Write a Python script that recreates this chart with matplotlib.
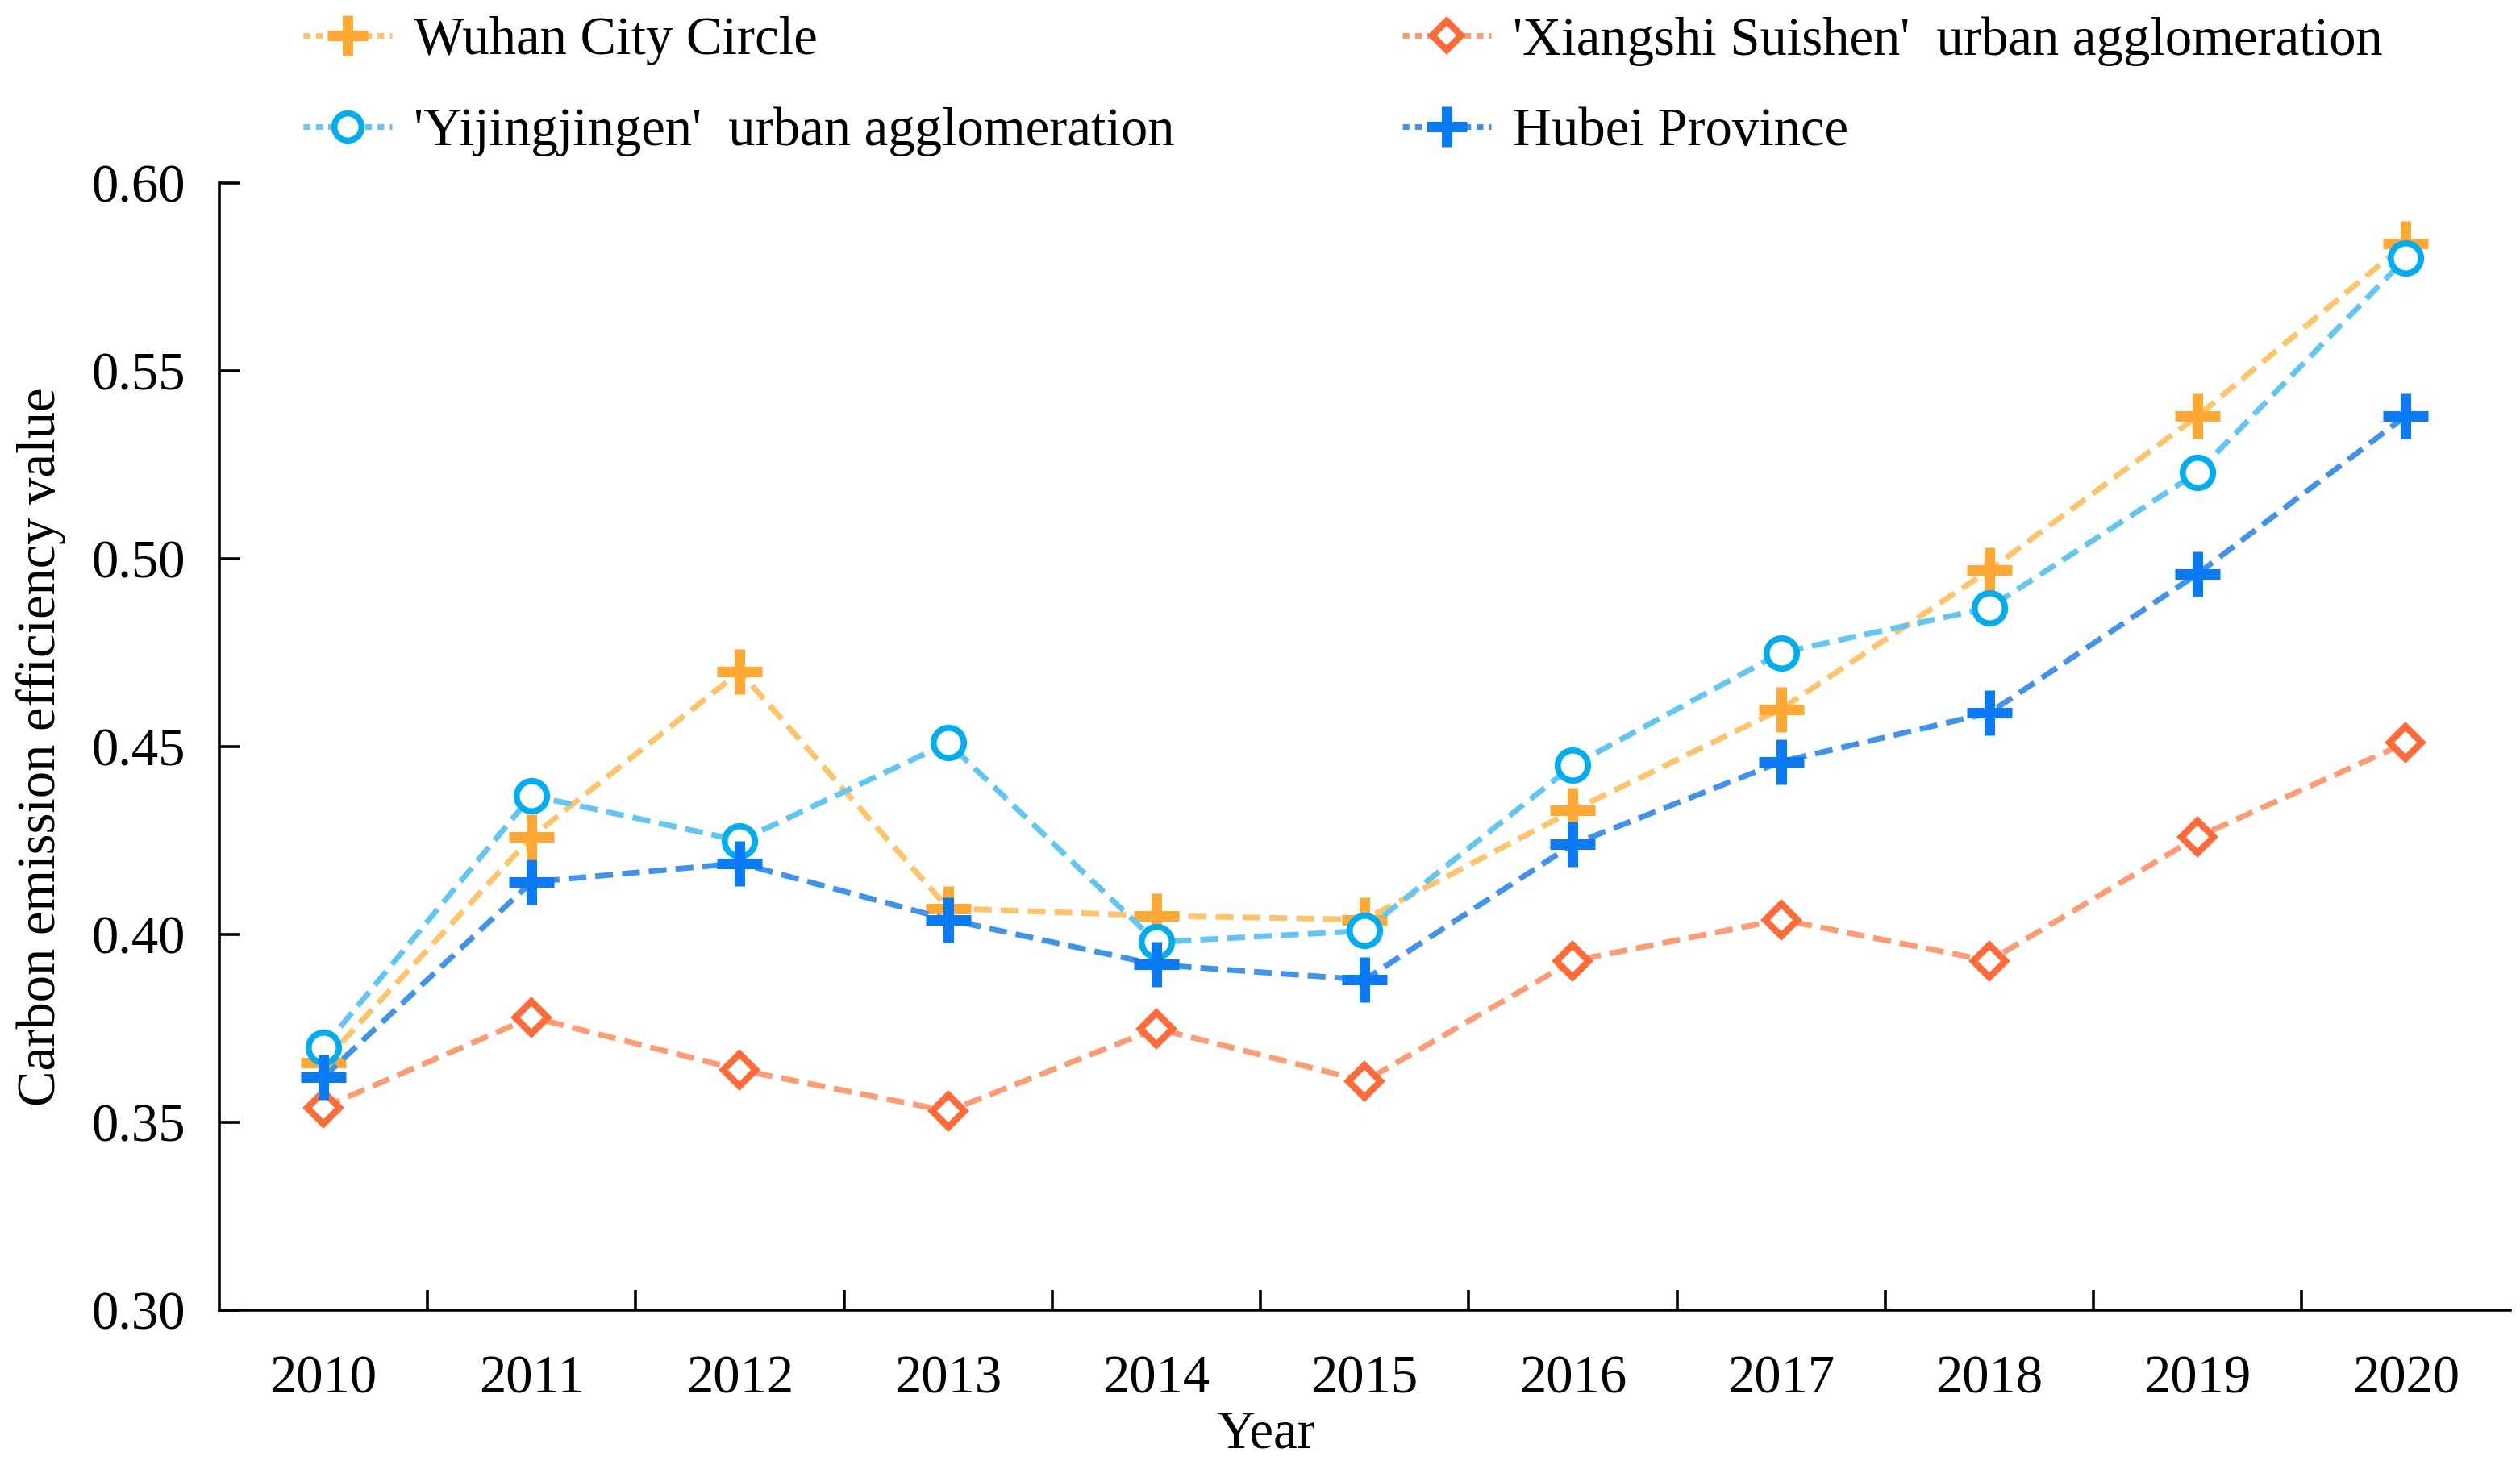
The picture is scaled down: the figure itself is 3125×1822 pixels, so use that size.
import numpy as np
import matplotlib
matplotlib.use('Agg')
import matplotlib.pyplot as plt
from matplotlib.lines import Line2D
from matplotlib.ticker import MultipleLocator, FixedLocator, FormatStrFormatter

years = [2010, 2011, 2012, 2013, 2014, 2015, 2016, 2017, 2018, 2019, 2020]
wuhan = [0.366, 0.426, 0.470, 0.407, 0.405, 0.404, 0.433, 0.460, 0.497, 0.538, 0.584]
xiangshi = [0.354, 0.378, 0.364, 0.353, 0.375, 0.361, 0.393, 0.404, 0.393, 0.426, 0.451]
yijing = [0.370, 0.437, 0.425, 0.451, 0.398, 0.401, 0.445, 0.475, 0.487, 0.523, 0.580]
hubei = [0.362, 0.414, 0.419, 0.404, 0.392, 0.388, 0.424, 0.446, 0.459, 0.496, 0.538]

names = ['Wuhan City Circle', "'Xiangshi Suishen'  urban agglomeration",
         "'Yijingjingen'  urban agglomeration", 'Hubei Province']

plt.rcParams['font.family'] = ['Liberation Serif', 'DejaVu Serif']
plt.rcParams['font.size'] = 48

fig = plt.figure(figsize=(31.25, 18.22), dpi=100)
ax = fig.add_axes([0.087, 0.108, 0.909, 0.7674])

dash = (3.2, 1.6)
lw = 5
# (values, line colour, marker colour, marker, size, edge width, zorder)
series = [
    (wuhan, '#FFC36A', '#FFA833', '+', 40, 9.4, 3),
    (xiangshi, '#FF9B72', '#FF6A38', 'D', 20, 6, 2),
    (yijing, '#62C6F4', '#00AEEF', 'o', 27, 5.5, 4),
    (hubei, '#3F93EC', '#0A7BF5', '+', 40, 9.4, 5),
]

handles = []
for vals, lc, mc, mk, ms, mew, z in series:
    fc = 'white' if mk != '+' else mc
    ax.plot(years, vals, color=lc, lw=lw, dashes=dash, zorder=z,
            marker=mk, ms=ms, mew=mew, mec=mc, mfc=fc)
    handles.append(Line2D([], [], color=lc, lw=lw, dashes=(1.2, 1.0),
                          marker=mk, ms=ms * 0.9, mew=mew, mec=mc, mfc=fc))

ax.set_xlim(2009.5, 2020.5)
ax.set_ylim(0.30, 0.60)
ax.yaxis.set_major_locator(MultipleLocator(0.05))
ax.yaxis.set_major_formatter(FormatStrFormatter('%.2f'))
ax.set_xticks(years)
ax.xaxis.set_minor_locator(FixedLocator(np.arange(2010.5, 2020, 1.0)))

ax.spines['top'].set_visible(False)
ax.spines['right'].set_visible(False)
for s in ['left', 'bottom']:
    ax.spines[s].set_linewidth(2.6)

ax.tick_params(axis='x', which='major', length=0, pad=40)
ax.tick_params(axis='x', which='minor', direction='in', length=18, width=2.6)
ax.tick_params(axis='y', which='major', direction='in', length=18, width=2.6, pad=30)

ax.set_xlabel('Year', labelpad=5)
ax.xaxis.label.set_x(0.457)
ax.set_ylabel('Carbon emission efficiency value', labelpad=23)

leg_kw = dict(loc='upper left', frameon=False, borderpad=0, borderaxespad=0,
              handlelength=1.65, handletextpad=0.4, labelspacing=0.77)
fig.legend(handles=[handles[0], handles[2]], labels=[names[0], names[2]],
           bbox_to_anchor=(0.1203, 0.989), **leg_kw)
fig.legend(handles=[handles[1], handles[3]], labels=[names[1], names[3]],
           bbox_to_anchor=(0.5565, 0.989), **leg_kw)

fig.savefig('out.png', dpi=100)
